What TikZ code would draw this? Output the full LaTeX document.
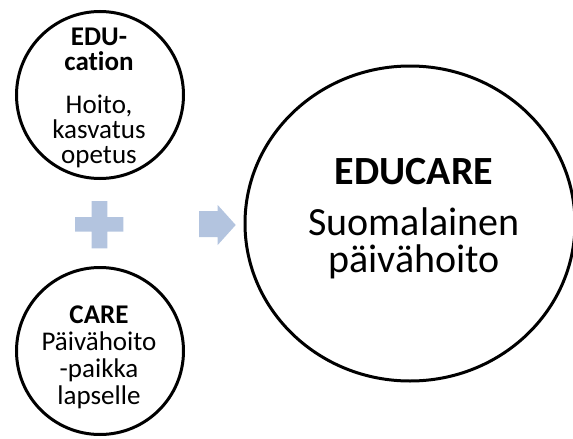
\documentclass[tikz,border=0pt]{standalone}
\usepackage{fontspec}
\setmainfont{Carlito}[Ligatures=NoCommon]
\usetikzlibrary{shapes.geometric}
\definecolor{accent}{HTML}{B3C4DF}
\tikzset{
  ring/.style={circle, draw=black, line width=3pt, inner sep=0pt, minimum size=167pt},
  bigring/.style={ellipse, draw=black, line width=3pt, inner sep=0pt, minimum width=330pt, minimum height=315pt},
  smalltext/.style={align=center, font=\fontsize{27pt}{25pt}\selectfont, inner sep=0pt},
  bigtext/.style={align=center, font=\fontsize{40pt}{37pt}\selectfont, inner sep=0pt},
  sign/.style={fill=accent, draw=none}
}
\begin{document}
\begin{tikzpicture}[x=1pt, y=-1pt]
\useasboundingbox (0,0) rectangle (573,439);
\clip (0,0) rectangle (573,439);
% circles
\node[ring] (edu) at (100,95) {};
\node[ring] (care) at (100,351) {};
\node[bigring] (educare) at (410,223.5) {};
% texts
\node[smalltext] (edutext) at (99,98) {\textbf{EDU-}\\\textbf{cation}\\[18pt]Hoito,\\kasvatus\\opetus};
\node[smalltext, font=\fontsize{27pt}{27pt}\selectfont] (caretext) at (99,357) {\textbf{CARE}\\Päivähoito\\-paikka\\lapselle};
\node[bigtext] (educaretext) at (414,219) {\textbf{EDUCARE}\\[14pt]Suomalainen\\päivähoito};
% plus sign
\fill[sign] (91.7,201) -- (107.3,201) -- (107.3,217) -- (123.3,217) -- (123.3,231.5)
  -- (107.3,231.5) -- (107.3,248.3) -- (91.7,248.3) -- (91.7,231.5) -- (75,231.5)
  -- (75,217) -- (91.7,217) -- cycle;
% block arrow
\coordinate (tip) at (235.7,225);
\fill[sign] (199,211) -- (217.7,211) -- (217.7,205) -- (tip) -- (217.7,245)
  -- (217.7,237) -- (199,237) -- cycle;
\end{tikzpicture}
\end{document}
